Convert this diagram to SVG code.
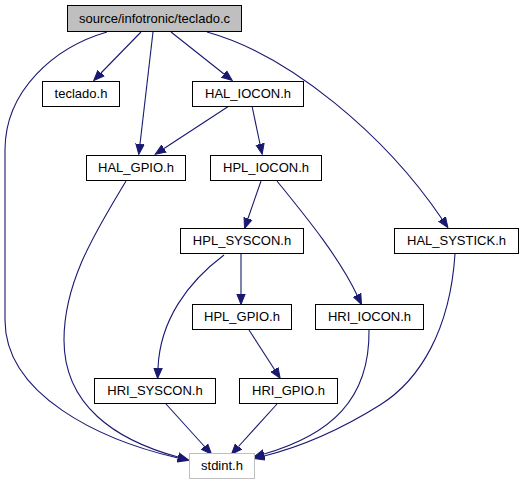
<svg xmlns="http://www.w3.org/2000/svg" width="524" height="485" viewBox="0 0 524 485">
<defs>
<style>
.n rect{fill:#ffffff;stroke:#000000;stroke-width:1}
.n text{font-family:"Liberation Sans",Arial,Helvetica,sans-serif;font-size:13px;fill:#000000;text-anchor:middle}
.e path{fill:none;stroke:#191970;stroke-width:1.1}
</style>
<marker id="ah" markerUnits="userSpaceOnUse" markerWidth="12" markerHeight="10" refX="0" refY="5" orient="auto" viewBox="0 0 12 10">
<path d="M0,0.8 L10.5,5 L0,9.2 z" fill="#191970" stroke="#191970" stroke-width="1"/>
</marker>
</defs>
<rect width="524" height="485" fill="#ffffff"/>
<g class="e" id="edges">
<path marker-end="url(#ah)" d="M141,32 L101,73"/>
<path marker-end="url(#ah)" d="M153,32 L140,144"/>
<path marker-end="url(#ah)" d="M171,32 L224,74"/>
<path marker-end="url(#ah)" d="M207,32 C290,55 385,135 442,219"/>
<path marker-end="url(#ah)" d="M107,32 C55,47 5,90 5,150 L5,320 C5,395 100,440 178,458"/>
<path marker-end="url(#ah)" d="M229,106 L164,148.5"/>
<path marker-end="url(#ah)" d="M252,106 L260,144"/>
<path marker-end="url(#ah)" d="M126,181 C98,228 64,280 64,340 C64,405 115,440 178,457"/>
<path marker-end="url(#ah)" d="M261,181 L248,218.5"/>
<path marker-end="url(#ah)" d="M277,181 C302,212 338,255 357,295"/>
<path marker-end="url(#ah)" d="M241,254 L241,294"/>
<path marker-end="url(#ah)" d="M224,255 C188,282 160,320 158,368"/>
<path marker-end="url(#ah)" d="M249,330 L274.5,369.5"/>
<path marker-end="url(#ah)" d="M166,404 L204.5,446.5"/>
<path marker-end="url(#ah)" d="M277,404 L238.5,446.5"/>
<path marker-end="url(#ah)" d="M369,330 C370,400 330,435 264,454"/>
<path marker-end="url(#ah)" d="M455,254 C450,330 420,380 380,405 C340,430 300,447 264,456"/>
</g>
<g class="n" id="root"><rect x="67.5" y="5.5" width="174" height="26" style="fill:#bfbfbf"/><text x="154.5" y="22.5">source/infotronic/teclado.c</text></g>
<g class="n" id="teclado_h"><rect x="42.5" y="81.5" width="77" height="25"/><text x="81" y="98">teclado.h</text></g>
<g class="n" id="HAL_IOCON_h"><rect x="192.5" y="81.5" width="111" height="25"/><text x="248" y="98">HAL_IOCON.h</text></g>
<g class="n" id="HAL_GPIO_h"><rect x="86.5" y="155.5" width="99" height="25"/><text x="136" y="172">HAL_GPIO.h</text></g>
<g class="n" id="HPL_IOCON_h"><rect x="210.5" y="155.5" width="111" height="25"/><text x="266" y="172">HPL_IOCON.h</text></g>
<g class="n" id="HAL_SYSTICK_h"><rect x="394.5" y="228.5" width="124" height="25"/><text x="456.5" y="245">HAL_SYSTICK.h</text></g>
<g class="n" id="HPL_SYSCON_h"><rect x="180.5" y="228.5" width="123" height="25"/><text x="242" y="245">HPL_SYSCON.h</text></g>
<g class="n" id="HPL_GPIO_h"><rect x="192.5" y="304.5" width="99" height="25"/><text x="242" y="321">HPL_GPIO.h</text></g>
<g class="n" id="HRI_IOCON_h"><rect x="315.5" y="304.5" width="108" height="25"/><text x="369.5" y="321">HRI_IOCON.h</text></g>
<g class="n" id="HRI_SYSCON_h"><rect x="94.5" y="378.5" width="121" height="25"/><text x="155" y="395">HRI_SYSCON.h</text></g>
<g class="n" id="HRI_GPIO_h"><rect x="239.5" y="378.5" width="98" height="25"/><text x="288.5" y="395">HRI_GPIO.h</text></g>
<g class="n" id="stdint_h"><rect x="189.5" y="453.5" width="65" height="25" style="stroke:#bfbfbf"/><text x="222" y="470">stdint.h</text></g>
</svg>
